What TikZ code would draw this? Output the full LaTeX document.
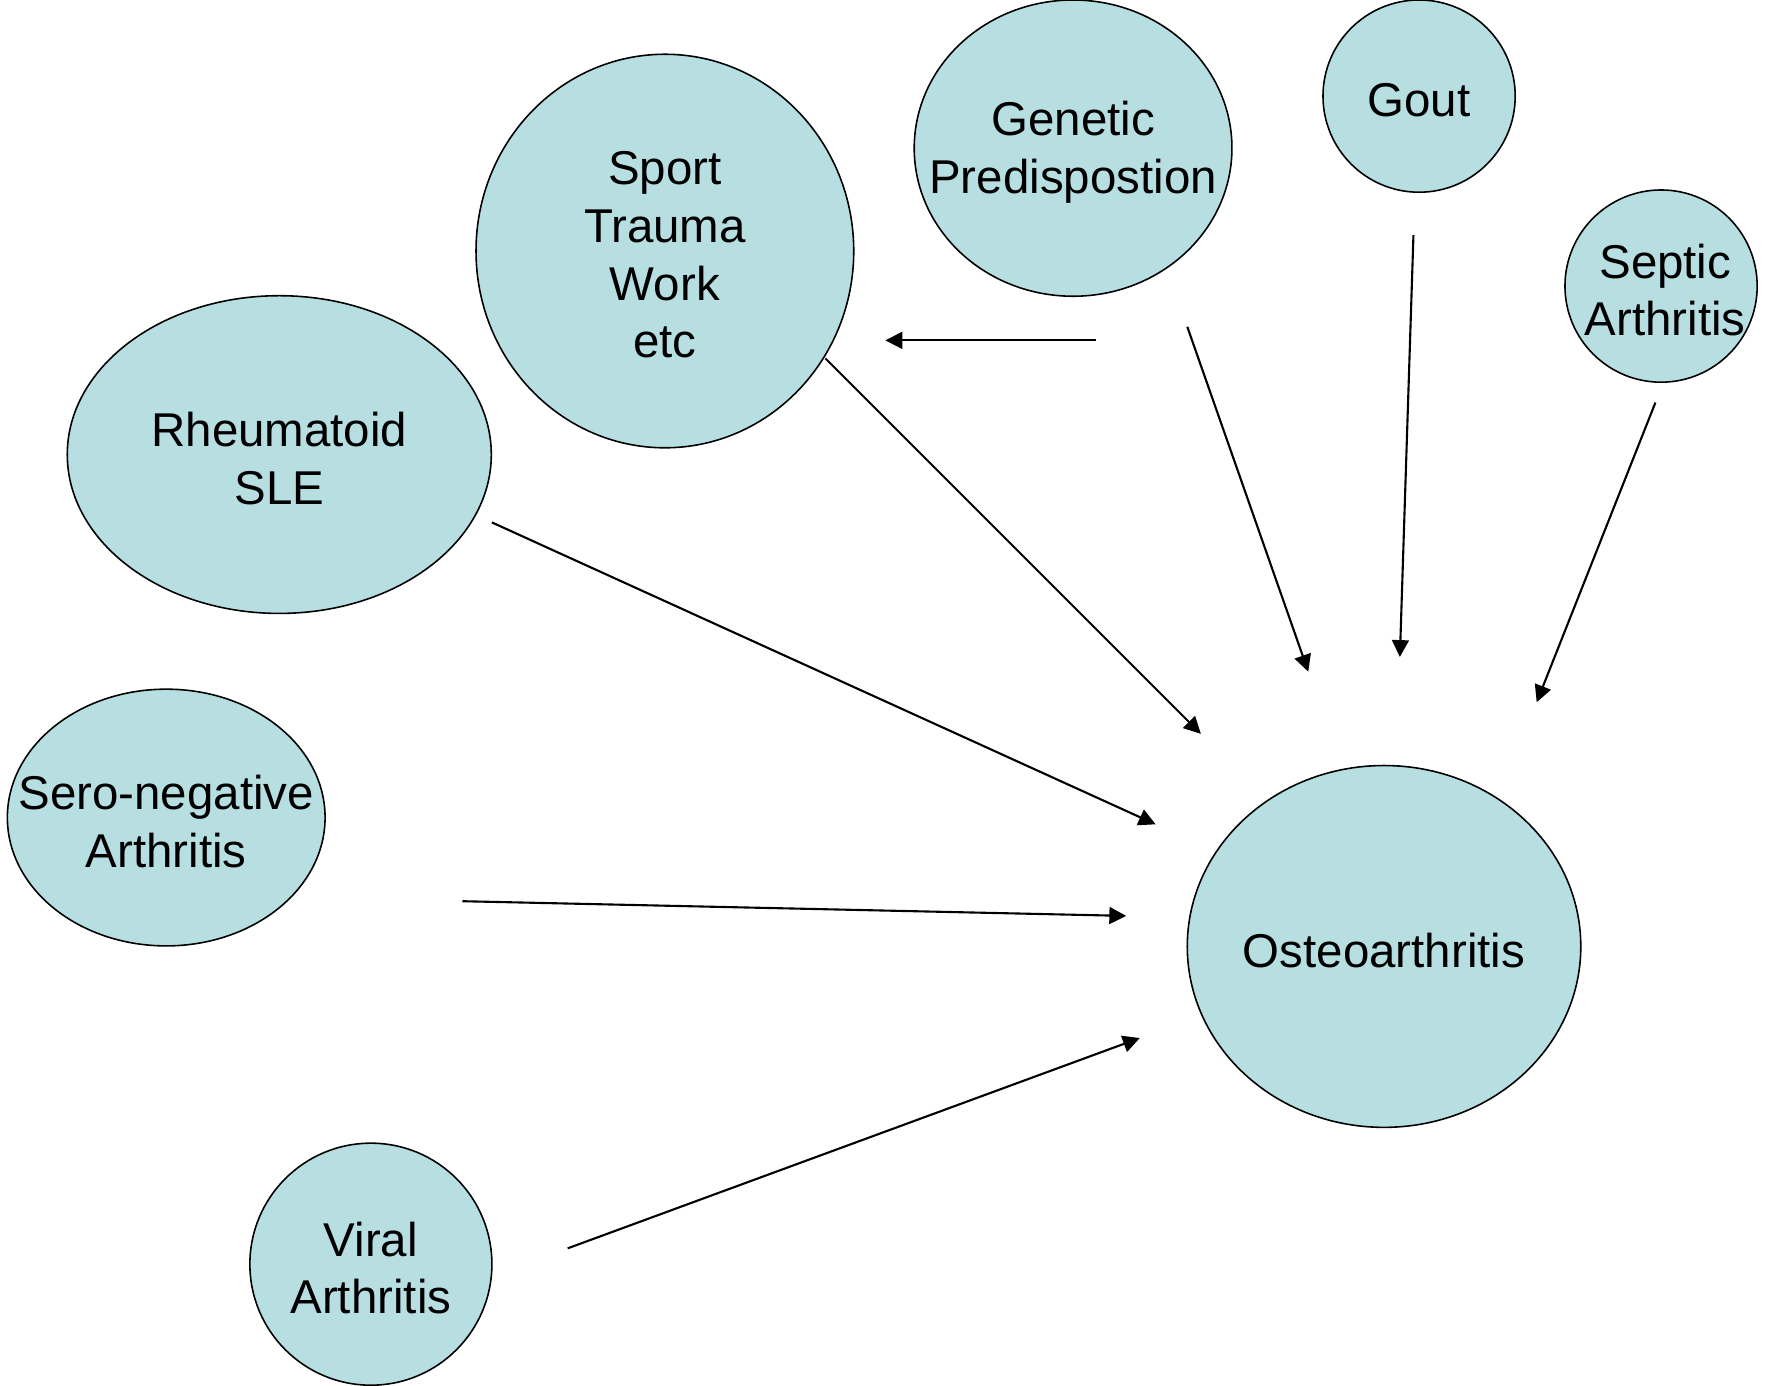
\documentclass[tikz,border=0pt]{standalone}
\usepackage{fontspec}
\setmainfont{Liberation Sans}
\usetikzlibrary{shapes.geometric,arrows.meta}
\definecolor{causefill}{RGB}{183,223,226}

\begin{document}
\begin{tikzpicture}[x=0.011307cm,y=-0.011307cm,
cause/.style={ellipse,draw,fill=causefill,line width=0.45pt,inner sep=0pt},
link/.style={-{Triangle[length=4.8pt,width=4.8pt]},line width=0.6pt},
every label/.style={align=center,yshift=-1.1pt,font=\fontsize{13.5}{16.4}\selectfont}]
\useasboundingbox (0,0) rectangle (1568,1225);

\node[cause,minimum width=3.777cm,minimum height=3.935cm,
label=center:{Sport\\Trauma\\Work\\etc}]
(sport) at (588,222) {};
\node[cause,minimum width=3.177cm,minimum height=2.962cm,
label=center:{Genetic\\Predispostion}]
(genetic) at (949,131) {};
\node[cause,minimum width=1.922cm,minimum height=1.922cm,
label=center:{Gout}]
(gout) at (1255,85) {};
\node[cause,minimum width=1.922cm,minimum height=1.922cm,
label={[xshift=1.2pt]center:{Septic\\Arthritis}}]
(septic) at (1469,253) {};
\node[cause,minimum width=4.240cm,minimum height=3.177cm,
label=center:{Rheumatoid\\SLE}]
(rheuma) at (247,402) {};
\node[cause,minimum width=3.177cm,minimum height=2.567cm,
label=center:{Sero-negative\\Arthritis}]
(sero) at (147,723) {};
\node[cause,minimum width=2.420cm,minimum height=2.420cm,
label=center:{Viral\\Arthritis}]
(viral) at (328,1118) {};
\node[cause,minimum width=3.935cm,minimum height=3.618cm,
label=center:{Osteoarthritis}]
(osteo) at (1224,837) {};

% free ends of the arrows
\coordinate (gen-a) at (969,301);  \coordinate (spo-in) at (783,301);
\coordinate (spo-a) at (730,317);  \coordinate (ost-1) at (1062,649);
\coordinate (rhe-a) at (435,462);  \coordinate (ost-2) at (1022,729);
\coordinate (ser-a) at (409,797);  \coordinate (ost-3) at (996,810);
\coordinate (vir-a) at (502,1104); \coordinate (ost-4) at (1008,918);
\coordinate (gen-b) at (1050,289); \coordinate (ost-5) at (1157,594);
\coordinate (gou-a) at (1250,208); \coordinate (ost-6) at (1238,581);
\coordinate (sep-a) at (1464,356); \coordinate (ost-7) at (1359,621);

\draw[link] (gen-a) -- (spo-in);
\draw[link] (spo-a) -- (ost-1);
\draw[link] (rhe-a) -- (ost-2);
\draw[link] (ser-a) -- (ost-3);
\draw[link] (vir-a) -- (ost-4);
\draw[link] (gen-b) -- (ost-5);
\draw[link] (gou-a) -- (ost-6);
\draw[link] (sep-a) -- (ost-7);
\end{tikzpicture}
\end{document}
